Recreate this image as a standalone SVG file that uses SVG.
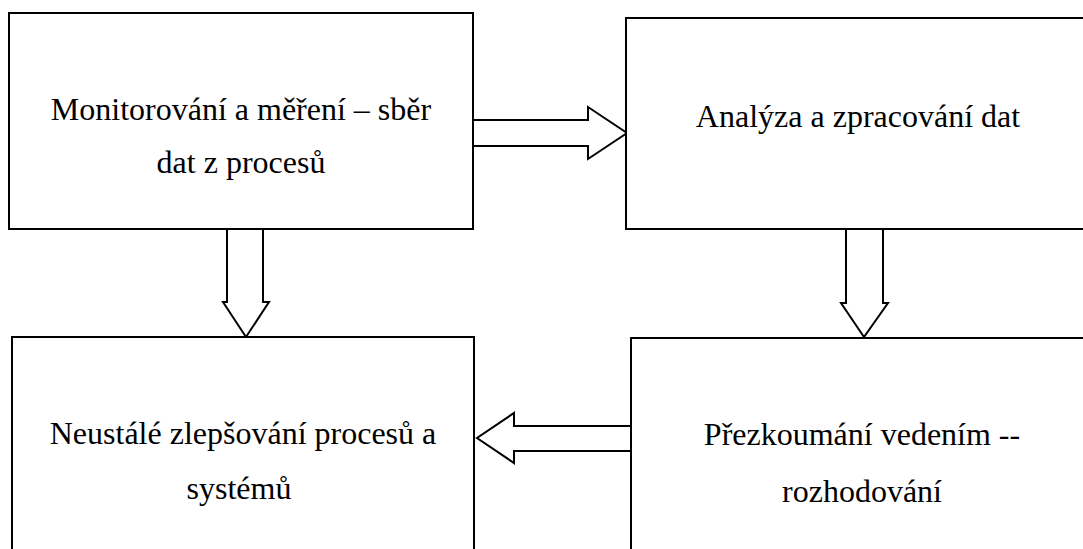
<svg xmlns="http://www.w3.org/2000/svg" width="1083" height="549" viewBox="0 0 1083 549">
  <style>
    .box { fill: #ffffff; stroke: #000000; stroke-width: 2; }
    .arrow { fill: #ffffff; stroke: #000000; stroke-width: 2; stroke-linejoin: miter; }
    .label { font-family: "Liberation Serif", "Times New Roman", serif; font-size: 32px; fill: #000000; text-anchor: middle; }
  </style>
  <rect width="1083" height="549" fill="#ffffff"/>

  <!-- Block arrows between the steps -->
  <g id="connectors">
    <!-- monitoring -> analysis -->
    <polygon class="arrow" points="473,120 588,120 588,107 627,133 588,159 588,146 473,146"/>
    <!-- monitoring -> improvement -->
    <polygon class="arrow" points="227,229 263,229 263,302 269,302 246,337 223,302 227,302"/>
    <!-- analysis -> management review -->
    <polygon class="arrow" points="846,229 883,229 883,303 888,303 864,337 841,303 846,303"/>
    <!-- management review -> improvement -->
    <polygon class="arrow" points="631,426 514,426 514,413 477,438 514,463 514,451 631,451"/>
  </g>

  <g id="node-monitoring">
    <rect class="box" x="9" y="13" width="464" height="216"/>
    <text class="label" x="241" y="120">Monitorování a měření – sběr</text>
    <text class="label" x="241" y="173">dat z procesů</text>
  </g>

  <g id="node-analysis">
    <rect class="box" x="626" y="18" width="470" height="211"/>
    <text class="label" x="858" y="127">Analýza a zpracování dat</text>
  </g>

  <g id="node-improvement">
    <rect class="box" x="12" y="337" width="462" height="230"/>
    <text class="label" x="243" y="444">Neustálé zlepšování procesů a</text>
    <text class="label" x="239" y="499">systémů</text>
  </g>

  <g id="node-review">
    <rect class="box" x="631" y="338" width="470" height="230"/>
    <text class="label" x="862" y="445">Přezkoumání vedením --</text>
    <text class="label" x="862" y="502">rozhodování</text>
  </g>
</svg>
